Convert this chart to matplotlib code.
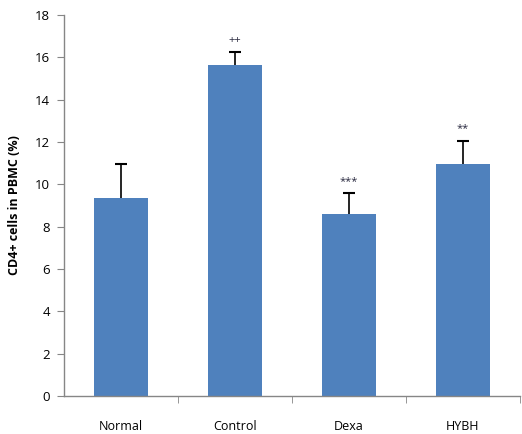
import matplotlib
matplotlib.use("Agg")
import matplotlib.pyplot as plt
import numpy as np

categories = ["Normal", "Control", "Dexa", "HYBH"]
values = [9.35, 15.63, 8.62, 10.95]
errors = [1.6, 0.6, 0.95, 1.1]
marks = ["", "++", "***", "**"]
yticks = [0, 2, 4, 6, 8, 10, 12, 14, 16, 18]

plt.rcParams['font.family'] = ['Open Sans', 'DejaVu Sans']

fig = plt.figure(figsize=(5.22, 4.34), dpi=100)
ax = fig.add_axes([0.1226, 0.0876, 0.8734, 0.8778])

x = np.arange(len(categories))
bar_color = "#4F81BD"
ax.bar(x, values, width=0.47, color=bar_color, zorder=2)
eb = ax.errorbar(x, values, yerr=[np.zeros(len(errors)), errors], fmt='none',
                 ecolor='black', elinewidth=1.2, capsize=4, capthick=1.5, zorder=3)
eb[1][0].set_visible(False)

for xi, v, e, m in zip(x, values, errors, marks):
    if m:
        ax.text(xi, v + e + 0.3, m, ha='center', va='bottom', fontsize=8,
                color='#2a2a40')

ax.set_xlim(-0.5, len(categories) - 0.5)
ax.set_ylim(0, 18)
ax.set_yticks(yticks)
ax.set_yticklabels([str(t) for t in yticks], fontsize=9.5)
ax.set_xticks(x)
ax.set_xticklabels(categories, fontsize=9)
ax.tick_params(axis='x', length=0, pad=17)
ax.set_xticks(np.arange(0.5, len(categories), 1.0), minor=True)
ax.tick_params(axis='x', which='minor', length=5, color='#868686', direction='out')
ax.tick_params(axis='y', length=5, color='#868686', direction='out', pad=5)

for s in ['top', 'right']:
    ax.spines[s].set_visible(False)
for s in ['left', 'bottom']:
    ax.spines[s].set_color('#868686')
    ax.spines[s].set_linewidth(1.0)

ax.set_ylabel("CD4+ cells in PBMC (%)", fontsize=9, fontweight='bold', labelpad=10)

fig.savefig("out.png", dpi=100)
